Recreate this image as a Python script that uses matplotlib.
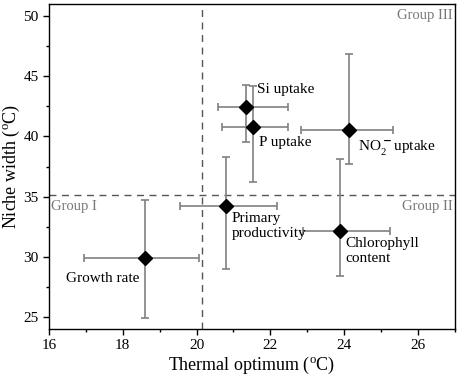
import matplotlib
matplotlib.use("Agg")
import matplotlib.pyplot as plt
from matplotlib.ticker import MultipleLocator

plt.rcParams['font.family'] = ['Liberation Serif', 'DejaVu Serif']
plt.rcParams['mathtext.fontset'] = 'custom'
plt.rcParams['mathtext.rm'] = 'Liberation Serif'

names = ["Growth rate", "Primary\nproductivity", "Chlorophyll\ncontent",
         "Si uptake", "P uptake", "NO$_2^{\\bf -}$uptake"]
topt = [18.59, 20.80, 23.89, 21.35, 21.54, 24.14]
topt_lo = [16.96, 19.55, 22.88, 20.58, 20.70, 22.83]
topt_hi = [20.07, 22.17, 25.25, 22.47, 22.47, 25.32]
width = [29.92, 34.19, 32.12, 42.42, 40.76, 40.54]
width_lo = [24.92, 29.00, 28.39, 39.52, 36.23, 37.75]
width_hi = [34.74, 38.28, 38.11, 44.26, 44.18, 46.89]

split_x = 20.16
split_y = 35.1

# label offsets in points (dx, dy) and alignment
label_pos = [(-4, -10, 'right', 'top'), (4, -4, 'left', 'top'), (4, -4, 'left', 'top'),
             (8, 8, 'left', 'bottom'), (4, -6, 'left', 'top'), (6, -6, 'left', 'top')]

fig = plt.figure(figsize=(4.58, 3.79), dpi=100)
ax = fig.add_axes([0.107, 0.132, 0.886, 0.857])

ax.axvline(split_x, color='#555555', ls=(0, (5, 4)), lw=1)
ax.axhline(split_y, color='#555555', ls=(0, (5, 4)), lw=1)

for i in range(len(names)):
    xe = [[topt[i] - topt_lo[i]], [topt_hi[i] - topt[i]]]
    ye = [[width[i] - width_lo[i]], [width_hi[i] - width[i]]]
    ax.errorbar(topt[i], width[i], xerr=xe, yerr=ye, fmt='D', color='black',
                ms=7, ecolor='#808080', elinewidth=1.2, capsize=3, capthick=1.2)
    dx, dy, ha, va = label_pos[i]
    ax.annotate(names[i], (topt[i], width[i]), xytext=(dx, dy),
                textcoords='offset points', ha=ha, va=va, fontsize=11,
                linespacing=1.25)

ax.text(16.05, 34.75, "Group I", color='#777777', fontsize=10.5, va='top')
ax.text(26.95, 34.75, "Group II", color='#777777', fontsize=10.5, ha='right', va='top')
ax.text(26.95, 50.6, "Group III", color='#777777', fontsize=10.5, ha='right', va='top')

ax.set_xlim(16, 27)
ax.set_ylim(24, 51)
ax.xaxis.set_major_locator(MultipleLocator(2))
ax.xaxis.set_minor_locator(MultipleLocator(1))
ax.yaxis.set_major_locator(MultipleLocator(5))
ax.yaxis.set_minor_locator(MultipleLocator(2.5))
ax.tick_params(which='major', length=4, width=1, labelsize=11, direction='out')
ax.tick_params(which='minor', length=2.5, width=1, direction='out')
for s in ax.spines.values():
    s.set_linewidth(1)

ax.set_xlabel("Thermal optimum ($^{\\rm o}$C)", fontsize=13, labelpad=2)
ax.set_ylabel("Niche width ($^{\\rm o}$C)", fontsize=13)
ax.yaxis.set_label_coords(-0.066, 0.5)

fig.savefig("out.png", dpi=100)
